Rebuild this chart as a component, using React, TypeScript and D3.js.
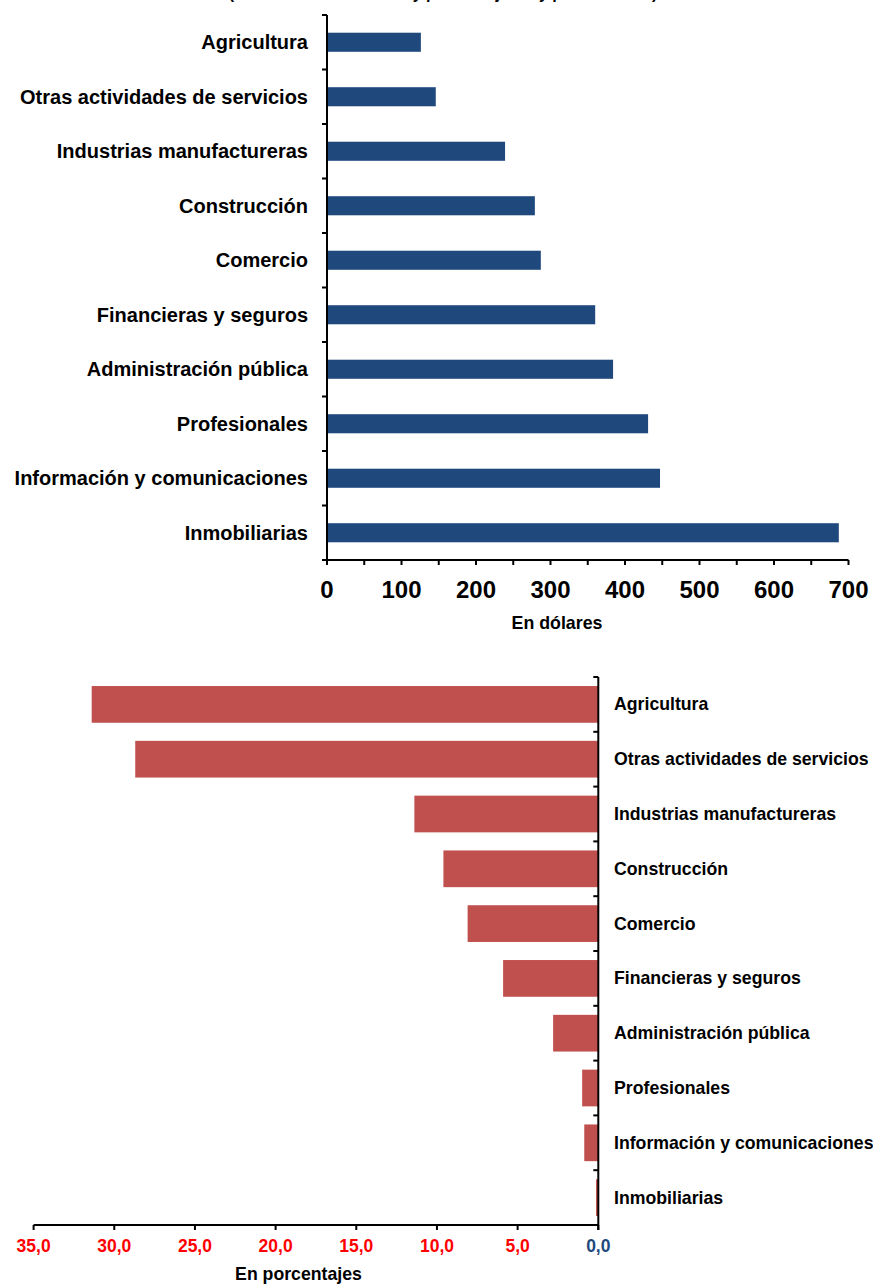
import React from "react";
import * as d3 from "d3";

const categories = [
  "Agricultura",
  "Otras actividades de servicios",
  "Industrias manufactureras",
  "Construcción",
  "Comercio",
  "Financieras y seguros",
  "Administración pública",
  "Profesionales",
  "Información y comunicaciones",
  "Inmobiliarias",
];
const dollarValues = [126, 146, 239, 279, 287, 360, 384, 431, 447, 687];
const percentValues = [31.4, 28.7, 11.4, 9.6, 8.1, 5.9, 2.8, 1.0, 0.87, 0.14];
const dollarTicks = [0, 100, 200, 300, 400, 500, 600, 700];
const dollarMinorTicks = d3.range(0, 701, 50);
const percentTicks = [35, 30, 25, 20, 15, 10, 5, 0];

const FONT = "'Liberation Sans', Arial, Helvetica, sans-serif";

export default function App() {
  const W = 873;
  const H = 1285;

  // Top chart
  const x1 = d3.scaleLinear().domain([0, 700]).range([327, 848.5]);
  const y1 = d3.scaleBand<string>().domain(categories).range([15, 560]).padding(0);
  const bw1 = y1.bandwidth();
  const barH1 = bw1 * 0.35;

  // Bottom chart
  const x2 = d3.scaleLinear().domain([0, 35]).range([598.3, 33.6]);
  const y2 = d3.scaleBand<string>().domain(categories).range([677, 1225]).padding(0);
  const bw2 = y2.bandwidth();
  const barH2 = bw2 * 0.67;

  const boundaries1 = d3.range(0, categories.length + 1).map((i) => 15 + i * bw1);
  const boundaries2 = d3.range(0, categories.length + 1).map((i) => 677 + i * bw2);

  return (
    <svg
      width={W}
      height={H}
      style={{ position: "absolute", left: 0, top: 0, background: "#fff" }}
      fontFamily={FONT}
      fontWeight="bold"
    >
      <rect x={0} y={0} width={W} height={H} fill="#fff" />
      {/* subtitle, cut off at the top edge as in the reference */}
      <text x={443} y={-1} textAnchor="middle" fontSize={16} fill="#000">
        (Salario medio mensual y por trabajador y por actividad)
      </text>

      {/* ---------- TOP CHART ---------- */}
      {categories.map((c, i) => (
        <rect
          key={"b1" + c}
          x={x1(0)}
          y={(y1(c) as number) + (bw1 - barH1) / 2}
          width={x1(dollarValues[i]) - x1(0)}
          height={barH1}
          fill="#1F497D"
        />
      ))}
      {categories.map((c) => (
        <text
          key={"l1" + c}
          x={308}
          y={(y1(c) as number) + bw1 / 2 + 7}
          textAnchor="end"
          fontSize={20}
          fill="#000"
        >
          {c}
        </text>
      ))}
      {/* y axis */}
      <line x1={x1(0)} x2={x1(0)} y1={15} y2={560} stroke="#000" strokeWidth={2} />
      {boundaries1.map((b, i) => (
        <line key={"t1y" + i} x1={x1(0) - 5} x2={x1(0)} y1={b} y2={b} stroke="#000" strokeWidth={2} />
      ))}
      {/* x axis */}
      <line x1={x1(0) - 5} x2={x1(700)} y1={560} y2={560} stroke="#000" strokeWidth={2} />
      {dollarMinorTicks.map((t) => (
        <line key={"t1x" + t} x1={x1(t)} x2={x1(t)} y1={560} y2={565} stroke="#000" strokeWidth={2} />
      ))}
      {dollarTicks.map((t) => (
        <text key={"tl1" + t} x={x1(t)} y={598} textAnchor="middle" fontSize={24} fill="#000">
          {t}
        </text>
      ))}
      <text x={557} y={629} textAnchor="middle" fontSize={17.8} fill="#000">
        En dólares
      </text>

      {/* ---------- BOTTOM CHART ---------- */}
      {categories.map((c, i) => (
        <rect
          key={"b2" + c}
          x={x2(percentValues[i])}
          y={(y2(c) as number) + (bw2 - barH2) / 2}
          width={x2(0) - x2(percentValues[i])}
          height={barH2}
          fill="#C0504D"
        />
      ))}
      {categories.map((c) => (
        <text
          key={"l2" + c}
          x={614}
          y={(y2(c) as number) + bw2 / 2 + 6}
          textAnchor="start"
          fontSize={17.7}
          fill="#000"
        >
          {c}
        </text>
      ))}
      <line x1={x2(0)} x2={x2(0)} y1={677} y2={1230} stroke="#000" strokeWidth={2} />
      {boundaries2.map((b, i) => (
        <line key={"t2y" + i} x1={x2(0) - 5} x2={x2(0)} y1={b} y2={b} stroke="#000" strokeWidth={2} />
      ))}
      <line x1={x2(35)} x2={x2(0)} y1={1225} y2={1225} stroke="#000" strokeWidth={2} />
      {percentTicks.map((t) => (
        <line key={"t2x" + t} x1={x2(t)} x2={x2(t)} y1={1225} y2={1230} stroke="#000" strokeWidth={2} />
      ))}
      {percentTicks.map((t) => (
        <text
          key={"tl2" + t}
          x={x2(t)}
          y={1252}
          textAnchor="middle"
          fontSize={17.5}
          fill={t === 0 ? "#1F497D" : "#FF0000"}
        >
          {d3.format(".1f")(t).replace(".", ",")}
        </text>
      ))}
      <text x={298.5} y={1280} textAnchor="middle" fontSize={17.7} fill="#000">
        En porcentajes
      </text>
    </svg>
  );
}
